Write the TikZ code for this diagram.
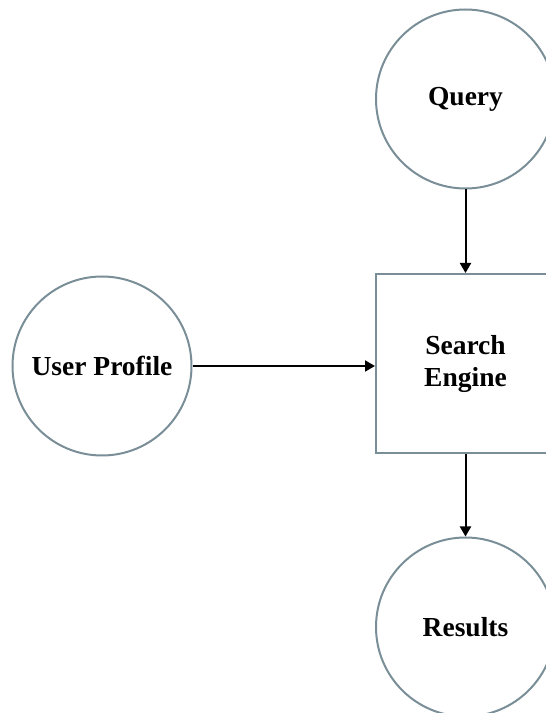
\documentclass[tikz,border=0pt]{standalone}
\usepackage{fontspec}
\setmainfont{Liberation Serif}
\usetikzlibrary{arrows.meta}
\definecolor{edgegray}{RGB}{122,142,152}
\tikzset{
  x=1pt,y=1pt,
  roundnode/.style={circle,draw=edgegray,line width=2pt,minimum size=179pt,inner sep=0pt,font=\fontsize{27.5}{32}\selectfont\bfseries,align=center},
  boxnode/.style={rectangle,draw=edgegray,line width=2pt,minimum size=179pt,inner sep=0pt,font=\fontsize{27.5}{32}\selectfont\bfseries,align=center},
  flow/.style={draw=black,line width=2pt,-{Triangle[length=10pt,width=11pt]}}
}
\begin{document}
\begin{tikzpicture}
\clip (0,0) rectangle (546,713);
\fill[white] (0,0) rectangle (546,713);
\node[roundnode] (query) at (465.5,614) {Query};
\node[boxnode] (se) at (465.5,349.5) {Search\\Engine};
\node[roundnode] (up) at (102,347) {User Profile};
\node[roundnode] (res) at (465.5,86) {Results};
\draw[flow] (query.south) -- (se.north);
\draw[flow] (up.east) -- (up.east -| se.west);
\draw[flow] (se.south) -- (res.north);
\end{tikzpicture}
\end{document}
